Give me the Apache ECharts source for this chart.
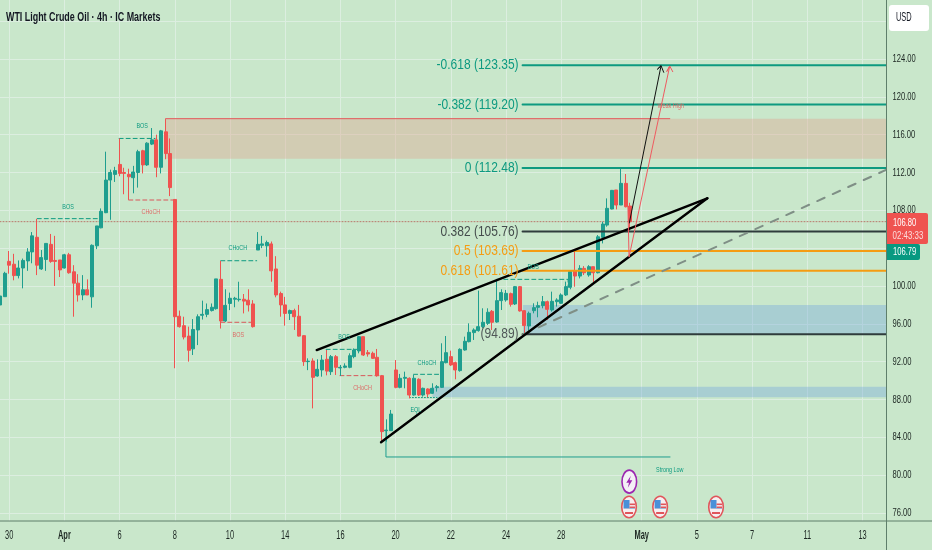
<!DOCTYPE html>
<html><head><meta charset="utf-8"><style>html,body{margin:0;padding:0;background:#c9e7cb}#c{width:932px;height:550px}</style>
<script src="https://cdn.jsdelivr.net/npm/echarts@6/dist/echarts.min.js"></script></head>
<body><div id="c"></div>
<script>
// ---- candles: bar index is array position ----
const opens=[97.99,98.87,102.6,102.3,101.1,101.9,102.65,103.6,105.15,101.8,102.8,104.4,102.7,102.75,101.9,103.3,101.5,100.3,99.05,99.6,98.85,104.25,106.15,107.75,111.2,111.8,112.85,112,111.8,111.45,112,114.3,112.8,115,115.45,112.55,116.3,114,109.15,96.8,95.8,94.7,93.35,95.35,96.9,97,97.4,97.6,100.7,96.3,98.15,98.6,98.55,98.6,98.5,98.1,103.8,104.3,104.25,104.45,101.8,99.2,98,97.1,97.4,96.8,94.75,92,92.07,90.48,91.12,92.25,90.94,92.53,91.33,91.4,91.4,92.53,93.13,94.64,92.95,92.88,92.46,90.52,84.7,84.7,91.12,89.28,90.24,90.24,88.47,90.13,88.47,89.11,88.65,89.25,89.28,91.89,92.53,91.89,91.05,93.23,94.11,95.07,95.28,95.7,96.05,97.32,96.19,98.45,98.52,99.19,98.1,99.93,97.39,95.77,97.39,97.74,97.92,98.34,97.46,98.34,98.17,99.05,99.86,101.62,101.05,101.86,101.16,102.04,101.4,105.14,106.44,108.14,110.15,108.56,110.85,108.45];
const closes=[98.94,101.34,102.2,101.1,101.9,102.7,103.6,105.3,102.2,103,104.5,102.6,102.6,101.7,103.3,101.4,100.3,99.05,99.6,99.05,104.3,106.35,107.9,111.2,112,112.2,111.9,111.9,111.55,112.05,114.2,112.8,115.1,115.45,112.55,116.4,114,110.4,96.75,95.7,94.6,93.2,95.4,96.75,97,97.5,97.75,100.75,96.3,97.95,98.7,98.7,98.6,98.4,98,95.7,104.4,104.45,104.6,101.6,99.05,98,97.1,97.4,96.75,94.7,92,92.05,90.34,91.19,92.17,91,92.53,91.4,91.4,91.54,92.63,93.23,94.64,92.7,92.81,92.35,90.52,84.6,84.77,86.46,89.28,90.24,90.34,88.47,90.24,88.47,89.18,88.58,89.18,89.35,92,92.95,91.65,91.12,93.3,94.15,95.1,95.35,95.7,96.16,97.22,96.16,98.45,99.3,99.22,98.06,99.93,97.36,95.81,97.11,97.71,97.92,98.34,97.53,98.38,98.52,99.05,99.93,101.52,101.05,101.86,101.4,102.04,101.4,105.2,106.55,108.21,110.11,108.56,110.85,108.38,106.79];
const lows=[97.28,98.87,101.3,100.6,100.8,99.75,101.6,102.4,101.15,101.7,101.6,102.45,100,100.95,101.85,101.3,96.75,98.35,98.5,99.05,97.7,103.9,106.1,107.7,107,111,111.6,109.7,109.1,109.8,110.4,111.9,112.7,114.9,111.5,111.9,113.4,109.5,91.3,95.6,94.35,92,92.7,93.75,96.45,96.7,97.3,97.5,95.5,96.2,97.45,97.75,98.35,97.1,97.3,95.6,103.8,104,103.1,100.45,98.8,96.75,95.8,96.4,95.35,94.65,91.55,91.1,87.06,90.41,90.41,90.55,90.59,90.59,90.48,91.3,91.3,92.35,92.88,92.6,92.53,92.28,90.41,83.54,83.54,84.7,89.18,89.18,89.18,88.12,88.4,88.37,88.3,88.23,88.58,88.83,89.21,91.82,91.54,90.13,90.94,93.16,94.04,94.29,95.17,95.52,95.88,95.35,96.12,97.46,98.34,97.82,97.99,97.29,94.82,94.82,97.11,96.69,97.64,96.4,97.29,97.82,98.1,98.94,99.65,99.92,100.8,101.16,100.98,100.27,101.33,104.5,106.27,108.1,108.1,108.56,108.31,105.74];
const highs=[98.94,101.5,103.7,103.4,102.7,102.9,104,105.7,107.1,103.8,104.5,105.5,105.3,102.75,103.4,103.5,102.2,101.25,101.15,100.7,104.4,106.35,108.2,114.2,112.3,112.6,115.6,112.5,112.4,112.7,114.4,114.4,115.2,116.7,116,116.5,117.65,115.6,109.15,97.4,96.75,95.7,96.5,97,98.45,98.15,98.15,100.75,102.65,99.65,99.3,98.85,100.45,99.15,99.65,98.5,105.7,105.3,104.8,104.7,103.15,99.4,98.85,97.5,97.6,98,94.8,92.35,92.35,92.25,92.7,93.23,92.7,92.7,91.65,91.82,92.88,93.4,94.71,94.64,93.23,93.06,93.34,90.59,85.9,86.89,92.17,90.7,90.94,90.34,90.59,90.24,89.25,89.18,89.71,89.53,93.94,94.71,93.16,92,93.41,94.64,96.05,95.52,99.51,97.64,97.64,97.46,100.56,99.65,99.58,99.3,100,100,97.46,97.29,98.17,98.34,98.94,98.45,99.4,98.7,99.22,100.46,101.62,103.62,102.2,102.1,102.2,102.04,105.39,106.8,109.26,110.15,110.15,112.44,111.84,108.8];

// ---- axes ----
const xTickBars=[2,14,26,38,50,62,74,86,98,110,122,139.5,151.5,163.5,175.5,187.5];
const xTickLabels=['30','Apr','6','8','10','14','16','20','22','24','28','May','5','7','11','13'];
const yTicks=[76,80,84,88,92,96,100,104,108,112,116,120,124,128];
const yLabels=[76,80,84,88,92,96,100,104,108,112,116,120,124];

// ---- levels ----
const fibLevels=[123.35,119.20,112.48,105.76,103.69,101.61,94.89];
const fibTexts=['-0.618 (123.35)','-0.382 (119.20)','0 (112.48)','0.382 (105.76)','0.5 (103.69)','0.618 (101.61)','(94.89)'];
const lastPrice=106.8;

// ---- drawings: [bar, price] ----
const upperTrend=[[68.85,93.23],[153.76,109.27]];
const lowerTrend=[[82.83,83.47],[153.76,109.27]];
const projection=[[113.7,94.89],[192.6,112.27]];
const blackArrow=[[136.8,106.66],[143.7,123.29],[142.89,122.91],[143.7,123.29],[144.28,122.59]];
const redArrow=[[136.5,108.35],[136.74,103.07],[145.59,123.26],[144.93,122.66],[145.59,123.26],[146.24,122.66]];
const supplyTop=[[36,117.69],[145.6,117.69]];
const strongLow=[[83.9,84.7],[83.9,81.92],[145.65,81.92]];
const greenBreaks=[[[8.1,107.12],[21.5,107.12]],[[25.9,115.6],[33.7,115.6]],[[48,102.67],[55.8,102.67]],[[70.9,93.3],[77.9,93.3]],[[89.9,90.66],[95.7,90.66]],[[108,100.7],[123.5,100.7],[123.5,99.9]]];
const redBreaks=[[[28,109.09],[37.7,109.09]],[[48,96.16],[54.7,96.16]],[[73.9,90.52],[82.6,90.52]]];
const eqlLine=[[89,88.2],[95,88.2]];

// ---- zones: [barFrom, barTo, top, bottom] ----
const supplyZone=[36,192.6,117.69,113.46];
const demandZone=[113.7,192.6,97.99,94.82];
const lowerZone=[94,192.6,89.35,88.23];

// ---- annotation text: [bar, price, text] ----
const greenNotes=[[14.8,108.4,'BOS'],[30.9,116.9,'BOS'],[51.7,104,'CHoCH'],[74.8,94.6,'BOS'],[92.8,91.9,'CHoCH'],[115.9,102,'BOS'],[90.4,86.9,'EQL'],[145.6,80.6,'Strong Low']];
const redNotes=[[32.8,107.8,'CHoCH'],[51.8,94.8,'BOS'],[78.8,89.2,'CHoCH'],[145.8,119.1,'Weak High']];

// ---- calendar events: [bar, price] ----
const usEvents=[[136.74,76.63],[143.5,76.63],[155.65,76.63]];
const boltEvents=[[136.8,79.31]];

const TEAL='#0d9a80',UP='#1f9e8f',DOWN='#ef5350',ORANGE='#f59c12',DARK='#2f3c3c',
      FONT='"Liberation Sans",sans-serif';
const END=192.6, FIB_START=113.6, Y_MIN=75.15, Y_MAX=130.238;

const candleData=opens.map((o,i)=>[i,o,closes[i],lows[i],highs[i]]);
const fibColors=[TEAL,TEAL,TEAL,DARK,ORANGE,ORANGE,DARK];
const fibTextColors=[TEAL,TEAL,TEAL,'#444c4c',ORANGE,ORANGE,'#505858'];

function line(data,color,width,type,z){return {type:'line',data,symbol:'none',silent:true,animation:false,
  lineStyle:{color,width,type:type||'solid',cap:'round'},z:z||5};}
function zone(z,color){return {type:'line',data:[],silent:true,animation:false,z:1,
  markArea:{silent:true,itemStyle:{color},data:[[{xAxis:z[0],yAxis:z[2]},{xAxis:z[1],yAxis:z[3]}]]}};}
// condensed text anchored at an axis coordinate, through the axes' own scales
function textSeries(rows,opt){return {type:'custom',data:rows.map(r=>[r[0],r[1]]),encode:{x:0,y:1},silent:true,animation:false,clip:false,z:opt.z||8,
  renderItem:(p,api)=>{const c=api.coord([api.value(0),api.value(1)]);const r=rows[p.dataIndex];
    return {type:'text',x:(opt.fixX!==undefined?opt.fixX:c[0])+(opt.dx||0),y:c[1]+(opt.dy||0),scaleX:opt.sx,
      style:{text:r[2],fill:(opt.colors?opt.colors[p.dataIndex]:opt.color),font:(r[3]||opt.weight||'normal')+' '+opt.size+'px '+FONT,
             textAlign:opt.align||'center',textVerticalAlign:'middle',align:opt.align||'center',verticalAlign:'middle'}};}};}

const series=[
  zone(supplyZone,'rgba(222,170,150,0.45)'),
  zone(demandZone,'rgba(120,170,220,0.40)'),
  zone(lowerZone,'rgba(120,170,220,0.40)'),
  line([[0,lastPrice],[END,lastPrice]],'#b9776a',1,[1,2],3),
  line(supplyTop,'#e4575a',1,'solid',4),
  {type:'candlestick',data:candleData,encode:{x:0,y:[1,2,3,4]},barWidth:3.4,silent:true,animation:false,z:4,
   itemStyle:{color:UP,color0:DOWN,borderColor:UP,borderColor0:DOWN,borderColorDoji:UP,borderWidth:1}},
  line(strongLow,UP,1,'solid',4),
  line(eqlLine,TEAL,1,[1,2],4),
  ...greenBreaks.map(b=>line(b,TEAL,1,[4,3],4)),
  ...redBreaks.map(b=>line(b,'#d9575a',1,[4,3],4)),
  ...fibLevels.map((p,i)=>line([[FIB_START,p],[END,p]],fibColors[i],2,'solid',5)),
  line(projection,'#7f8f86',2,[8,9],5),
  line(upperTrend,'#000',2.4,'solid',6),
  line(lowerTrend,'#000',2.4,'solid',6),
  line(blackArrow,'#111',1,'solid',6),
  line(redArrow,'#ef5a60',1,'solid',6),
  textSeries(fibLevels.map((p,i)=>[FIB_START,p,fibTexts[i]]),{colors:fibTextColors,size:15,sx:0.8,align:'right',dx:-4}),
  textSeries(greenNotes,{color:TEAL,size:8,sx:0.68}),
  textSeries(redNotes,{color:'#dd6a66',size:8,sx:0.68}),
  textSeries(yLabels.map(v=>[END,v,v.toFixed(2)]),{color:'#1c2622',size:11.5,sx:0.66,align:'left',dx:6.5,z:20}),
  textSeries(xTickBars.map((b,i)=>[b,Y_MIN,xTickLabels[i],(xTickLabels[i]==='May'||xTickLabels[i]==='Apr')?'bold':'normal']),{color:'#1c2622',size:12,sx:0.62,dy:15,z:20}),
  {type:'custom',data:usEvents,encode:{x:0,y:1},silent:true,animation:false,z:9,clip:false,
   renderItem:(params,api)=>{const c=api.coord([api.value(0),api.value(1)]),x=c[0],y=c[1];
     return {type:'group',children:[
       {type:'ellipse',shape:{cx:x,cy:y,rx:7.3,ry:10.8},style:{fill:'#f6eef0',stroke:'#e0555a',lineWidth:1.6}},
       {type:'rect',shape:{x:x-5.5,y:y-7,width:6,height:8},style:{fill:'#4a90d9'}},
       {type:'rect',shape:{x:x+0.5,y:y-3.5,width:5.5,height:1.6},style:{fill:'#e0555a'}},
       {type:'rect',shape:{x:x+0.5,y:y-0.5,width:5.5,height:2},style:{fill:'#e0555a'}},
       {type:'rect',shape:{x:x-5.5,y:y+1,width:11.5,height:1},style:{fill:'#9fb7d6'}},
       {type:'rect',shape:{x:x-4,y:y+5,width:8,height:2},style:{fill:'#e0555a'}}
     ]};}},
  {type:'custom',data:boltEvents,encode:{x:0,y:1},silent:true,animation:false,z:9,clip:false,
   renderItem:(params,api)=>{const c=api.coord([api.value(0),api.value(1)]),x=c[0],y=c[1];
     return {type:'group',children:[
       {type:'ellipse',shape:{cx:x,cy:y,rx:7.3,ry:11.5},style:{fill:'#f4f0f6',stroke:'#9c27b0',lineWidth:1.6}},
       {type:'polygon',shape:{points:[[x+1.5,y-6],[x-3,y+1],[x-0.3,y+1],[x-1.5,y+6],[x+3,y-1.5],[x+0.3,y-1.5]]},style:{fill:'#9c27b0'}}
     ]};}}
];

const chart=echarts.init(document.getElementById('c'),null,{renderer:'canvas'});
const AX='#5e7f6b';
function tag(text,x,y,sx,fill,size){return {type:'text',z:101,x,y,scaleX:sx,style:{text,fill,font:size+'px '+FONT,verticalAlign:'middle',textVerticalAlign:'middle'}};}
chart.setOption({
  backgroundColor:'#c9e7cb',animation:false,
  grid:{left:0,right:46,top:0,bottom:29},
  xAxis:{type:'value',min:0,max:END,
    axisLine:{show:false},axisTick:{show:false,customValues:xTickBars},
    splitLine:{show:true,lineStyle:{color:'#dceee0',width:1}},axisLabel:{show:false}},
  yAxis:{type:'value',position:'right',min:Y_MIN,max:Y_MAX,
    axisLine:{show:false},axisTick:{show:false,customValues:yTicks},
    splitLine:{show:true,lineStyle:{color:'#dceee0',width:1}},axisLabel:{show:false}},
  series,
  graphic:[
    {type:'text',z:100,x:6,y:17,scaleX:0.685,style:{text:'WTI Light Crude Oil · 4h · IC Markets',fill:'#131722',font:'bold 13px '+FONT,verticalAlign:'middle',textVerticalAlign:'middle'}},
    {type:'line',z:90,shape:{x1:886.5,y1:0,x2:886.5,y2:550},style:{stroke:AX,lineWidth:1}},
    {type:'line',z:90,shape:{x1:0,y1:521,x2:932,y2:521},style:{stroke:AX,lineWidth:1}},
    {type:'rect',z:100,shape:{x:889,y:5,width:40,height:26,r:3},style:{fill:'#ffffff'}},
    tag('USD',896,18,0.62,'#131722',12),
    {type:'rect',z:100,shape:{x:887,y:213,width:41,height:31,r:[0,2,2,0]},style:{fill:'#ef5350'}},
    tag('106.80',893,223,0.66,'#ffffff',11.5),
    tag('02:43:33',892.5,236,0.72,'#fbdcdc',11),
    {type:'rect',z:100,shape:{x:887,y:244,width:33,height:16,r:[0,2,2,0]},style:{fill:'#089981'}},
    tag('106.79',893,252,0.66,'#ffffff',11.5)
  ]
});
</script></body></html>
